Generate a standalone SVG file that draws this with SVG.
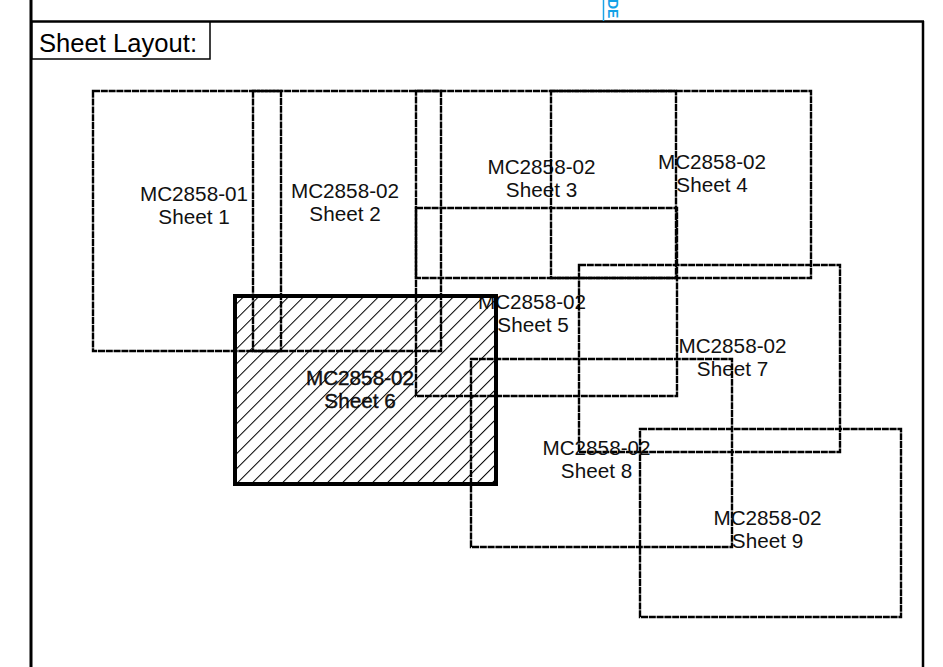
<svg xmlns="http://www.w3.org/2000/svg" width="943" height="667" viewBox="0 0 943 667">
<defs>
<style>
.sheet{fill:none;stroke:#000;stroke-width:2.4;stroke-dasharray:7 0.8}
.lbl{font-family:"Liberation Sans",Arial,sans-serif;font-size:20.7px;fill:#111;text-anchor:middle}
.frame{fill:none;stroke:#000}
</style>
<pattern id="hatch" patternUnits="userSpaceOnUse" width="10.6" height="10.6" patternTransform="rotate(45)">
<line x1="0" y1="0" x2="0" y2="10.6" stroke="#000" stroke-width="2"/>
</pattern>
</defs>
<rect x="0" y="0" width="943" height="667" fill="#fff"/>
<g id="frame">
<line class="frame" x1="31" y1="0" x2="31" y2="667" stroke-width="3"/>
<line class="frame" x1="30" y1="21.5" x2="924" y2="21.5" stroke-width="2.5"/>
<line class="frame" x1="923" y1="21" x2="923" y2="667" stroke-width="2.5"/>
<line x1="603.5" y1="0" x2="603.5" y2="21" stroke="#1ca3e6" stroke-width="1.5"/>
<text transform="translate(608,-1) rotate(90)" font-family="'Liberation Sans',Arial,sans-serif" font-size="14" font-weight="bold" fill="#12a2e6">DE</text>
</g>
<g id="title">
<rect x="32" y="22" width="178" height="37" fill="#fff" stroke="#000" stroke-width="1.5"/>
<text x="39" y="52" font-family="'Liberation Sans',Arial,sans-serif" font-size="26" fill="#000" textLength="158" lengthAdjust="spacingAndGlyphs">Sheet Layout:</text>
</g>
<g id="sheet1">
<rect class="sheet" x="93" y="91" width="188" height="260"/>
<text class="lbl" x="194" y="201">MC2858-01</text>
<text class="lbl" x="194" y="224">Sheet 1</text>
</g>
<g id="sheet2">
<rect class="sheet" x="253" y="91" width="188" height="260"/>
<text class="lbl" x="345" y="198">MC2858-02</text>
<text class="lbl" x="345" y="220.5">Sheet 2</text>
</g>
<g id="sheet3">
<rect class="sheet" x="416" y="91" width="260" height="187"/>
<text class="lbl" x="541.5" y="174">MC2858-02</text>
<text class="lbl" x="541.5" y="197">Sheet 3</text>
</g>
<g id="sheet4">
<rect class="sheet" x="551" y="91" width="260" height="187"/>
<text class="lbl" x="712" y="169">MC2858-02</text>
<text class="lbl" x="712" y="191.5">Sheet 4</text>
</g>
<g id="sheet5">
<rect class="sheet" x="416" y="208" width="261" height="188"/>
<text class="lbl" x="532" y="309">MC2858-02</text>
<text class="lbl" x="533" y="332">Sheet 5</text>
</g>
<g id="sheet7">
<rect class="sheet" x="579" y="265" width="261" height="187"/>
<text class="lbl" x="732.5" y="353">MC2858-02</text>
<text class="lbl" x="732.5" y="376">Sheet 7</text>
</g>
<g id="sheet8">
<rect class="sheet" x="471" y="359" width="261" height="188"/>
<text class="lbl" x="596.5" y="455">MC2858-02</text>
<text class="lbl" x="596.5" y="478">Sheet 8</text>
</g>
<g id="sheet9">
<rect class="sheet" x="640" y="429" width="261" height="188"/>
<text class="lbl" x="767.5" y="525">MC2858-02</text>
<text class="lbl" x="767.5" y="548">Sheet 9</text>
</g>
<g id="sheet6">
<text class="lbl" x="360" y="385" stroke="#111" stroke-width="0.4">MC2858-02</text>
<text class="lbl" x="360" y="408" stroke="#111" stroke-width="0.4">Sheet 6</text>
<rect x="235" y="296" width="261" height="188" fill="url(#hatch)" stroke="#000" stroke-width="4"/>
</g>
</svg>
